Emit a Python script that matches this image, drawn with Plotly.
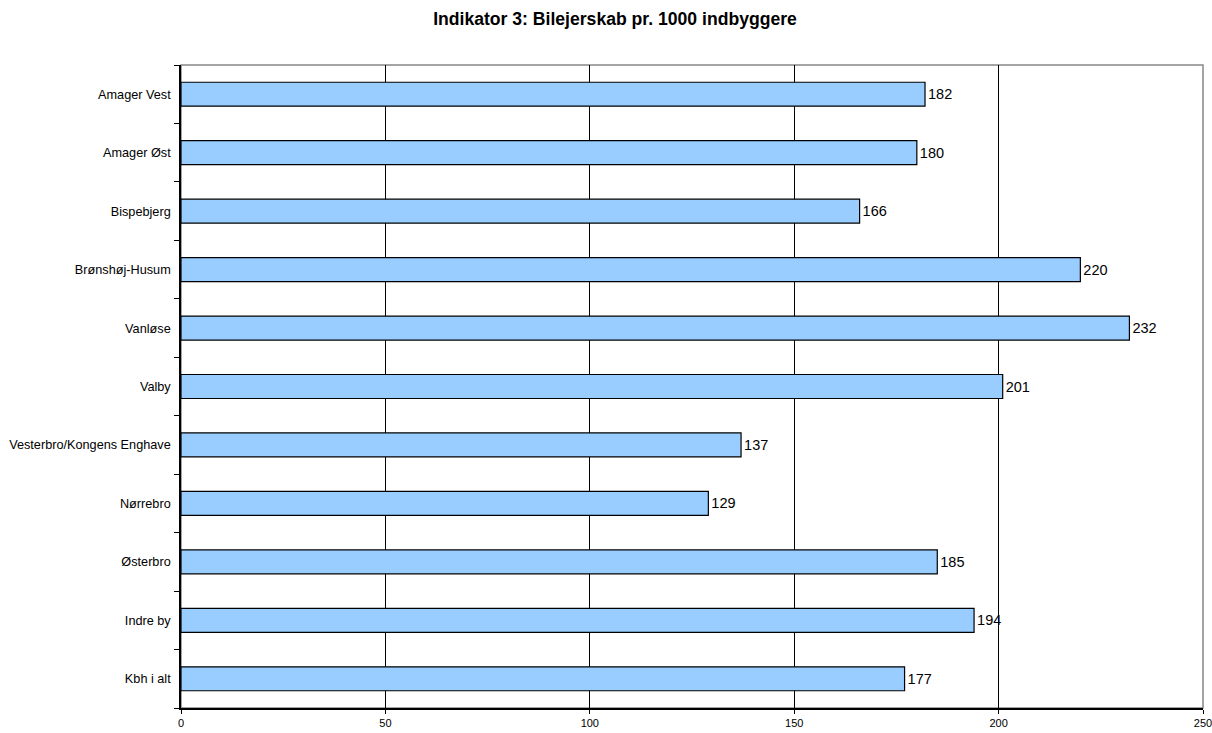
import plotly.graph_objects as go

categories = ["Amager Vest", "Amager Øst", "Bispebjerg", "Brønshøj-Husum", "Vanløse", "Valby",
              "Vesterbro/Kongens Enghave", "Nørrebro", "Østerbro", "Indre by", "Kbh i alt"]
values = [182, 180, 166, 220, 232, 201, 137, 129, 185, 194, 177]
x_ticks = [0, 50, 100, 150, 200, 250]

fig = go.Figure(go.Bar(
    x=values, y=categories, orientation="h",
    marker=dict(color="#99CCFF", line=dict(color="black", width=1.2)),
    width=0.41,
    text=[str(v) for v in values], textposition="outside",
    textfont=dict(family="Liberation Sans, Arial", size=14.5, color="black"),
    cliponaxis=False,
))

fig.update_layout(
    width=1212, height=733,
    margin=dict(l=181, r=9, t=65, b=25, autoexpand=False),
    paper_bgcolor="white", plot_bgcolor="white",
    font=dict(family="Liberation Sans, Arial", color="black"),
    title=dict(text="<b>Indikator 3: Bilejerskab pr. 1000 indbyggere</b>", x=615/1212, xanchor="center",
               y=1 - 19/733, yanchor="middle", font=dict(size=17.6)),
    showlegend=False,
    shapes=[dict(type="rect", xref="paper", yref="paper", x0=0, x1=1, y0=0, y1=1,
                 line=dict(color="#888888", width=1.5), layer="below")],
)
fig.update_xaxes(range=[0, 250], tickvals=x_ticks, showgrid=True, gridcolor="black", gridwidth=1,
                 showline=True, linecolor="black", linewidth=1.5, ticks="outside", ticklen=4,
                 tickcolor="black", tickfont=dict(size=11), zeroline=False, automargin=False,
                 ticklabeloverflow="allow")
fig.update_yaxes(categoryorder="array", categoryarray=categories[::-1], showline=True,
                 linecolor="black", linewidth=1.5, ticks="outside", ticklen=5, tickcolor="black",
                 tickson="boundaries", tickfont=dict(size=12.7), showgrid=False,
                 ticklabelstandoff=6, automargin=False)

fig.write_html("out.html", config={"displayModeBar": False},
               post_script="document.body.style.margin='0';document.body.style.overflow='hidden';")
